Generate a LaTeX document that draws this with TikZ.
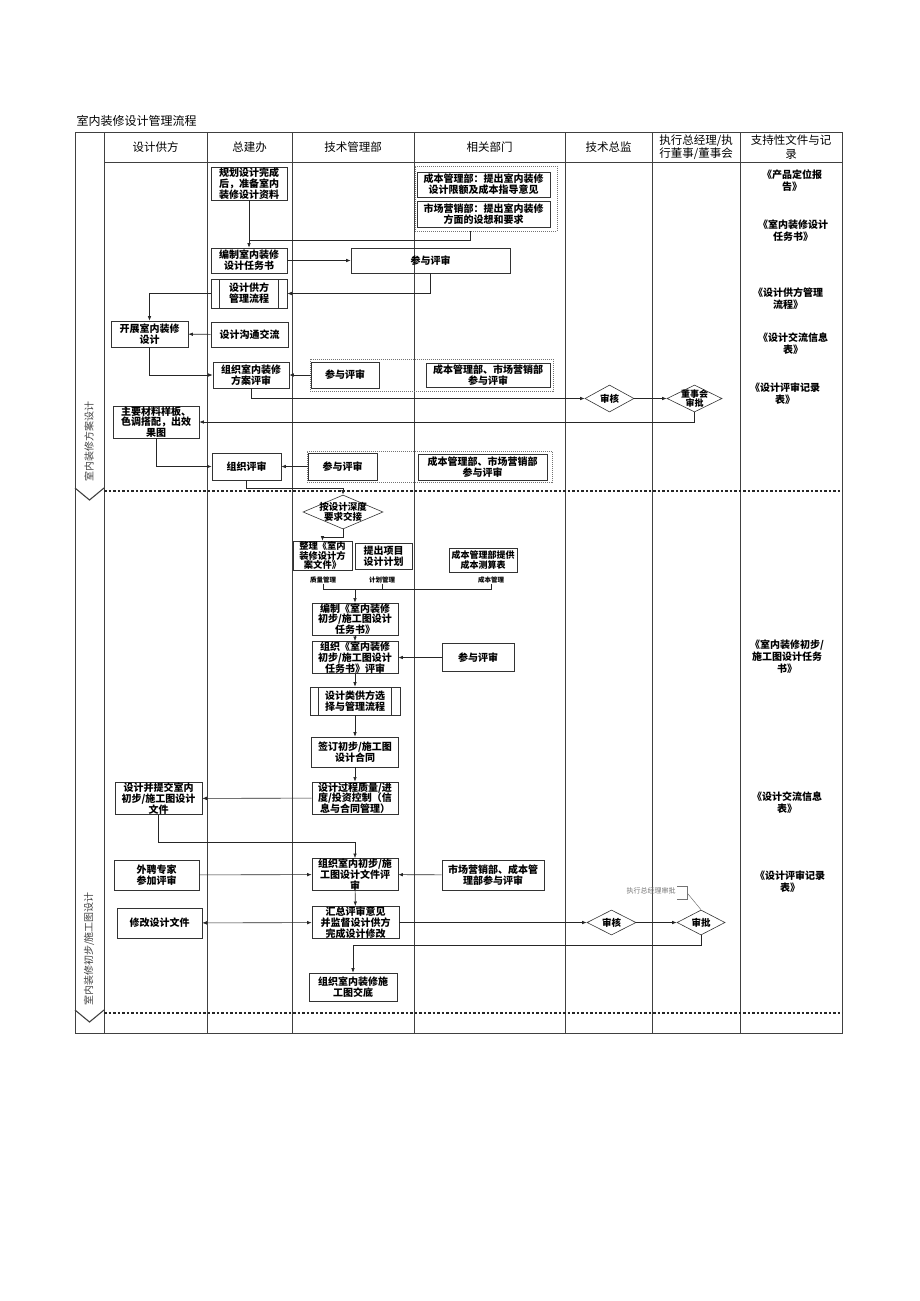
\documentclass[tikz,border=0pt]{standalone}
\usepackage{fontspec}
\setmainfont{Noto Sans CJK SC}
\usetikzlibrary{arrows.meta,shapes.geometric}

\begin{document}
\begin{tikzpicture}[x=1pt,y=-1pt,
  box/.style={draw=black!80,line width=0.6pt,rectangle,align=center,inner sep=0.5pt,
    font=\bfseries\fontsize{10}{10.8}\selectfont},
  proc/.style={box,path picture={\draw[line width=0.6pt,black!80]
    ([xshift=#1]path picture bounding box.north west) -- ([xshift=#1]path picture bounding box.south west)
    ([xshift=-#1]path picture bounding box.north east) -- ([xshift=-#1]path picture bounding box.south east);}},
  proc/.default=8.5pt,
  dia/.style={draw=black!80,line width=0.6pt,diamond,inner sep=0pt},
  dtext/.style={font=\bfseries\fontsize{9.5}{10}\selectfont,align=center,inner sep=0pt},
  grp/.style={draw=black!55,line width=0.7pt,dash pattern=on 1pt off 1pt,rectangle},
  arr/.style={-{Latex[length=4.5pt,width=3.5pt]},line width=0.6pt,black!85},
  ln/.style={line width=0.6pt,black!85},
  hd/.style={font=\fontsize{11.5}{13.5}\selectfont,align=center},
  doc/.style={font=\bfseries\fontsize{10}{12}\selectfont,align=center},
  tag/.style={font=\bfseries\fontsize{6.5}{7}\selectfont,inner sep=0.5pt},
  tline/.style={line width=0.9pt,black!75},
  dotsep/.style={line width=1.6pt,black!85,dash pattern=on 2.5pt off 2pt}
]
\useasboundingbox (0,0) rectangle (920,1301);

% title and table
\node[anchor=west,font=\fontsize{12}{14}\selectfont] (title) at (73,121) {室内装修设计管理流程};
\draw[tline] (75,132) rectangle (842,1033);
\foreach \x in {104,207,292,414,565,652,740}
  \draw[tline] (\x,132) -- (\x,1033);
\draw[tline] (104,162) -- (842,162);
\draw[dotsep] (104,491) -- (842,491);
\draw[dotsep] (104,1013) -- (842,1013);
\draw[tline,line width=1.1pt] (75,488) -- (89.5,500) -- (104,488);
\draw[tline,line width=1.1pt] (75,1010) -- (89.5,1022) -- (104,1010);
\node[rotate=90,font=\fontsize{10}{12}\selectfont,black!75] (stage1) at (89,441) {室内装修方案设计};
\node[rotate=90,font=\fontsize{10}{12}\selectfont,black!75] (stage2) at (89,949) {室内装修初步/施工图设计};

% header
\node[hd] (h1) at (155.5,147) {设计供方};
\node[hd] (h2) at (249.5,147) {总建办};
\node[hd] (h3) at (353,147) {技术管理部};
\node[hd] (h4) at (489.5,147) {相关部门};
\node[hd] (h5) at (608.5,147) {技术总监};
\node[hd] (h6) at (696,147) {执行总经理/执\\行董事/董事会};
\node[hd] (h7) at (791,147) {支持性文件与记\\录};

% 方案设计阶段
\node[box,minimum width=76pt,minimum height=33pt] (prep) at (249,183.5) {规划设计完成\\后，准备室内\\装修设计资料};
\node[box,minimum width=76pt,minimum height=25pt] (task) at (249,260.5) {编制室内装修\\设计任务书};
\node[grp,minimum width=142pt,minimum height=65pt] (grpA) at (486,198.5) {};
\node[box,minimum width=133pt,minimum height=25pt] (costA) at (483.5,184.5) {成本管理部：提出室内装修\\设计限额及成本指导意见};
\node[box,minimum width=133pt,minimum height=26pt] (mktA) at (483.5,214) {市场营销部：提出室内装修\\方面的设想和要求};
\node[box,minimum width=159pt,minimum height=25pt] (joinA) at (430.5,260.5) {参与评审};
\node[proc,minimum width=76pt,minimum height=29pt] (supp) at (249,293.5) {设计供方\\管理流程};
\node[box,minimum width=77pt,minimum height=26pt] (dev) at (149.5,334) {开展室内装修\\设计};
\node[box,minimum width=77pt,minimum height=25pt] (comm) at (249.5,334.5) {设计沟通交流};
\node[box,minimum width=76pt,minimum height=26pt] (orgA) at (251,375) {组织室内装修\\方案评审};
\node[grp,minimum width=243pt,minimum height=32pt] (grpB) at (431.5,375) {};
\node[box,minimum width=68pt,minimum height=26pt] (joinB) at (345,375) {参与评审};
\node[box,minimum width=124pt,minimum height=24pt] (deptB) at (488,375) {成本管理部、市场营销部\\参与评审};
\node[dia,minimum width=49pt,minimum height=27pt] (chkA) at (609.5,398.5) {};
\node[dtext] at (chkA) {审核};
\node[dia,minimum width=55pt,minimum height=27pt] (aprA) at (694.5,398.5) {};
\node[dtext,font=\bfseries\fontsize{9}{9.5}\selectfont] at (aprA) {董事会\\审批};
\node[box,minimum width=86pt,minimum height=32pt] (mat) at (156,422) {主要材料样板、\\色调搭配，出效\\果图};
\node[box,minimum width=69pt,minimum height=27pt] (orgB) at (246.5,466.5) {组织评审};
\node[grp,minimum width=245pt,minimum height=31pt] (grpC) at (429.5,466.5) {};
\node[box,minimum width=69pt,minimum height=27pt] (joinC) at (342.5,466.5) {参与评审};
\node[box,minimum width=129pt,minimum height=26pt] (deptC) at (482.5,467) {成本管理部、市场营销部\\参与评审};

\coordinate (j1) at (249,240);
\coordinate (j2) at (343,488);
\draw[arr] (prep) -- (task);
\draw[ln] ([xshift=-16pt]grpA.south) |- (j1);
\draw[arr] (task) -- (joinA);
\draw[arr] (joinA.south) |- (supp.east);
\draw[arr] (supp.west) -| (dev.north);
\draw[arr] (comm) -- (dev);
\draw[arr] (dev.south) |- (orgA.west);
\draw[arr] (joinB) -- (orgA);
\draw[arr] (orgA.south) |- (chkA.west);
\draw[arr] (chkA) -- (aprA);
\draw[arr] (aprA.south) |- (mat.east);
\draw[arr] (mat.south) |- (orgB.west);
\draw[arr] (joinC) -- (orgB);

% 初步/施工图设计阶段
\node[dia,minimum width=80pt,minimum height=34pt] (hand) at (343,512) {};
\node[dtext] at (hand) {按设计深度\\要求交接};
\node[box,minimum width=59pt,minimum height=28pt,font=\bfseries\fontsize{9.3}{9.5}\selectfont] (sort) at (322.5,555.5) {整理《室内\\装修设计方\\案文件》};
\node[box,minimum width=57pt,minimum height=26pt] (plan) at (383.5,556) {提出项目\\设计计划};
\node[box,minimum width=68pt,minimum height=24pt,font=\bfseries\fontsize{9}{10}\selectfont] (est) at (483,560) {成本管理部提供\\成本测算表};
\node[tag] (q) at (323,580) {质量管理};
\node[tag] (p) at (382,580) {计划管理};
\node[tag] (c) at (491,580) {成本管理};
\node[box,minimum width=86pt,minimum height=32pt] (draft) at (355,619) {编制《室内装修\\初步/施工图设计\\任务书》};
\node[box,minimum width=86pt,minimum height=31pt] (orgC) at (355,657.5) {组织《室内装修\\初步/施工图设计\\任务书》评审};
\node[box,minimum width=72pt,minimum height=28pt] (joinD) at (478,657.5) {参与评审};
\node[proc,minimum width=90pt,minimum height=28pt] (sel) at (355,701) {设计类供方选\\择与管理流程};
\node[box,minimum width=87pt,minimum height=30pt] (sign) at (355,752) {签订初步/施工图\\设计合同};
\node[box,minimum width=86pt,minimum height=31pt] (ctrl) at (355,798) {设计过程质量/进\\度/投资控制（信\\息与合同管理）};
\node[box,minimum width=87pt,minimum height=31pt] (submit) at (158.5,798.5) {设计并提交室内\\初步/施工图设计\\文件};
\node[box,minimum width=86pt,minimum height=30pt] (orgD) at (355,874.5) {组织室内初步/施\\工图设计文件评\\审};
\node[box,minimum width=85pt,minimum height=30pt] (expert) at (156.5,875) {外聘专家\\参加评审};
\node[box,minimum width=102pt,minimum height=30pt] (deptD) at (493,875) {市场营销部、成本管\\理部参与评审};
\node[box,minimum width=87pt,minimum height=31pt] (sum) at (355.5,922.5) {汇总评审意见\\并监督设计供方\\完成设计修改};
\node[box,minimum width=85pt,minimum height=30pt] (mod) at (159.5,923) {修改设计文件};
\node[dia,minimum width=49pt,minimum height=25pt] (chkB) at (611.5,922.5) {};
\node[dtext] at (chkB) {审核};
\node[dia,minimum width=48pt,minimum height=25pt] (aprB) at (701,922.5) {};
\node[dtext] at (aprB) {审批};
\node[box,minimum width=88pt,minimum height=28pt] (handover) at (353,987) {组织室内装修施\\工图交底};
\node[font=\fontsize{7}{8}\selectfont,black!55,inner sep=0.5pt] (note) at (651,891) {执行总经理审批};

\coordinate (j3) at (355,589);
\coordinate (j4) at (355,842);
\coordinate (j5) at (353,945);
\draw[arr] (orgB.south) |- (j2) -- (hand.north);
\draw[arr] (hand.south) -- ++(0,8) -| (sort.north);
\draw[ln] (q.south) |- (j3);
\draw[ln] (p.south) |- (j3);
\draw[ln] (c.south) |- (j3);
\draw[arr] (j3) -- (draft.north);
\draw[arr] (draft) -- (orgC);
\draw[arr] (joinD) -- (orgC);
\draw[arr] (orgC) -- (sel);
\draw[arr] (sel) -- (sign);
\draw[arr] (sign) -- (ctrl);
\draw[arr] (ctrl) -- (submit);
\draw[arr] (submit.south) |- (j4) -- (orgD.north);
\draw[arr] (expert) -- (orgD);
\draw[arr] (deptD) -- (orgD);
\draw[arr] (orgD) -- (sum);
\draw[arr,{Latex[length=4.5pt,width=3.5pt]}-{Latex[length=4.5pt,width=3.5pt]}] (mod) -- (sum);
\draw[arr] (sum) -- (chkB);
\draw[arr] (chkB) -- (aprB);
\draw[arr] (aprB.south) |- (j5) -- (handover.north);
\draw[black!55,line width=0.5pt] ([xshift=1pt,yshift=5pt]note.east) -- ++(10,0) -- ++(0,13) -- ++(-10,0);
\draw[black!55,line width=0.5pt] ([xshift=11pt,yshift=-2pt]note.east) -- (aprB.north);

% 支持性文件与记录
\node[doc] (d1) at (792,181) {《产品定位报\\告》};
\node[doc] (d2) at (793,231) {《室内装修设计\\任务书》};
\node[doc] (d3) at (788,299) {《设计供方管理\\流程》};
\node[doc] (d4) at (793,344) {《设计交流信息\\表》};
\node[doc] (d5) at (785,394) {《设计评审记录\\表》};
\node[doc] (d6) at (787,657) {《室内装修初步/\\施工图设计任务\\书》};
\node[doc] (d7) at (787,803) {《设计交流信息\\表》};
\node[doc] (d8) at (790,882) {《设计评审记录\\表》};
\end{tikzpicture}
\end{document}
